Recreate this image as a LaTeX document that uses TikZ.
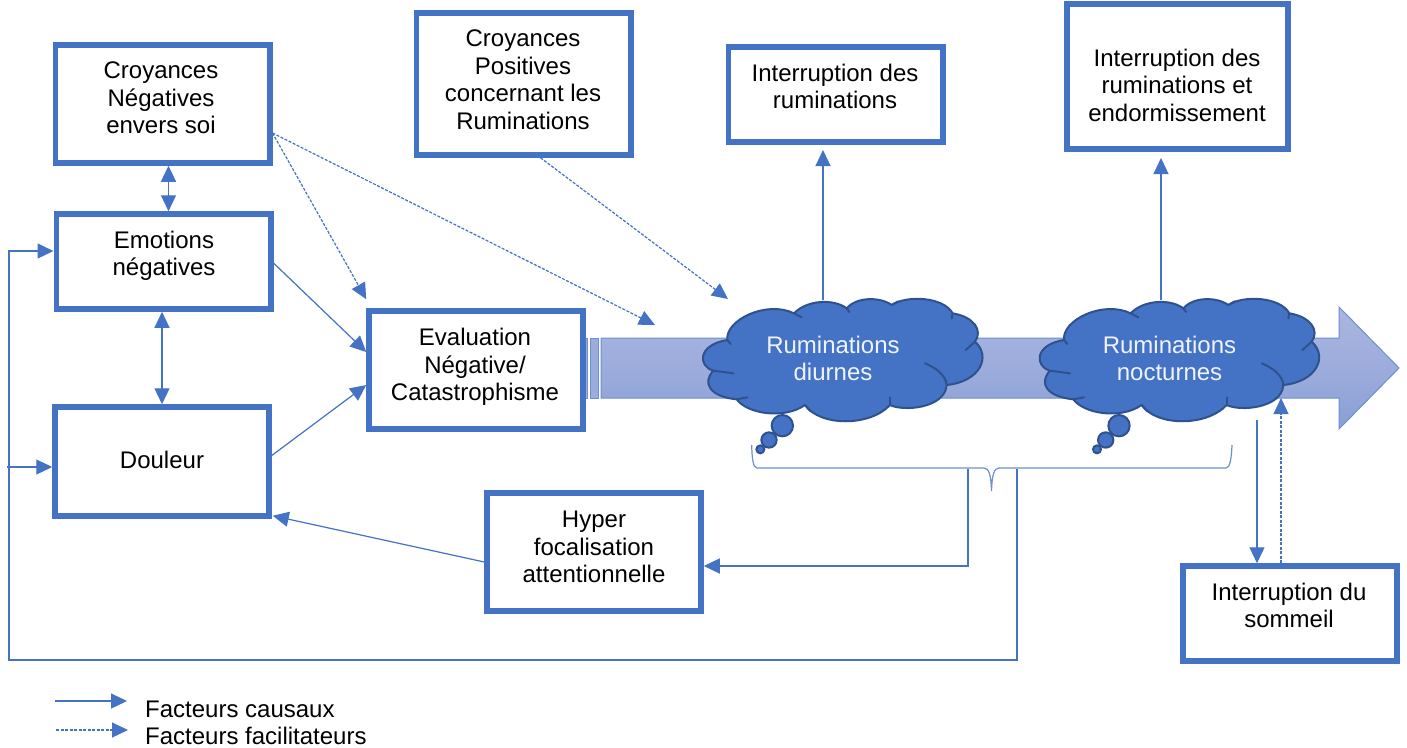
\documentclass[tikz,border=0pt]{standalone}
\usepackage{fontspec}
\setmainfont{Liberation Sans}
\usetikzlibrary{arrows.meta}
\definecolor{acc}{HTML}{4472C4}
\definecolor{cloudline}{HTML}{2F528F}
\definecolor{arrowline}{HTML}{6C8FD3}
\tikzset{
  boxnode/.style={draw=acc,line width=5.5pt,fill=white,inner sep=0pt},
  lab/.style={font=\fontsize{24}{27.5}\selectfont,align=center,inner sep=0pt,text=black},
  cloudlab/.style={lab,text=white!92!acc},
  conn/.style={draw=acc,line width=1.2pt,-{Triangle[length=16pt,width=15pt]}},
  conntwo/.style={draw=acc,line width=1.2pt,{Triangle[length=16pt,width=15pt]}-{Triangle[length=16pt,width=15pt]}},
  dashconn/.style={conn,dash pattern=on 3pt off 1.5pt},
  plain/.style={draw=acc,line width=1pt},
  cloudbody/.style={fill=acc,draw=cloudline,line width=2pt,line join=round},
  cloudinner/.style={draw=cloudline,line width=2pt,line cap=round},
  bigarrow/.style={draw=arrowline,line width=1pt,top color=bigtop,bottom color=bigbot,middle color=bigmid},
}
\definecolor{bigtop}{HTML}{ABB6E0}
\definecolor{bigmid}{HTML}{9CACDC}
\definecolor{bigbot}{HTML}{8A9FD5}
\newcommand{\thoughtcloud}{%
  \path[cloudbody] (472,180) .. controls (465,120) and (590,60) .. (672,100)
   .. controls (710,60) and (790,55) .. (830,85)
   .. controls (860,50) and (930,50) .. (965,75)
   .. controls (1010,45) and (1120,50) .. (1148,100)
   .. controls (1210,110) and (1240,150) .. (1215,185)
   .. controls (1265,230) and (1230,305) .. (1130,315)
   .. controls (1125,385) and (1000,395) .. (960,375)
   .. controls (900,440) and (750,440) .. (705,375)
   .. controls (640,420) and (530,400) .. (500,358)
   .. controls (420,350) and (395,310) .. (430,272)
   .. controls (385,260) and (380,195) .. (472,180) -- cycle;
  \path[cloudinner] (672,100) -- (695,112);
  \path[cloudinner] (830,85) -- (838,96);
  \path[cloudinner] (965,75) -- (985,64);
  \path[cloudinner] (1148,100) -- (1145,115);
  \path[cloudinner] (1215,185) -- (1187,210);
  \path[cloudinner] (1130,315) .. controls (1128,285) and (1095,262) .. (1065,250);
  \path[cloudinner] (960,375) -- (960,352);
  \path[cloudinner] (705,375) -- (722,394);
  \path[cloudinner] (500,358) -- (532,352);
  \path[cloudinner] (430,272) -- (490,280);
  \path[cloudinner] (472,180) -- (482,192);
  \path[cloudbody] (637,437) circle[radius=32];
  \path[cloudbody] (597,480) circle[radius=23];
  \path[cloudbody] (571,508) circle[radius=12];
}
\begin{document}
\begin{tikzpicture}[x=1pt,y=-1pt]
\useasboundingbox (0,0) rectangle (1407,747);
\fill[white] (0,0) rectangle (1407,747);

% long arrow
\path[bigarrow] (601,338) -- (1339,338) -- (1339,307) -- (1399,368) -- (1339,429) -- (1339,398) -- (601,398) -- cycle;
\path[draw=arrowline,line width=1pt,fill=bigmid] (590.5,338) rectangle (598,398);
\path[draw=arrowline,line width=1pt,fill=bigmid] (584,338) rectangle (587,398);

% boxes
\node[boxnode,minimum width=214.5pt,minimum height=118pt] (croyneg) at (162.5,104) {};
\node[boxnode,minimum width=214.5pt,minimum height=95pt] (emo) at (163.5,261.5) {};
\node[boxnode,minimum width=214pt,minimum height=109pt] (dou) at (162,461.5) {};
\node[boxnode,minimum width=214pt,minimum height=118pt] (eval) at (476,370) {};
\node[boxnode,minimum width=214.5pt,minimum height=142pt] (croypos) at (523.5,84) {};
\node[boxnode,minimum width=214.5pt,minimum height=95pt] (intr) at (835.5,94.5) {};
\node[boxnode,minimum width=221pt,minimum height=145pt] (intrend) at (1177.5,76.5) {};
\node[boxnode,minimum width=214pt,minimum height=118pt] (hyper) at (594,552) {};
\node[boxnode,minimum width=214pt,minimum height=95pt] (somm) at (1290,613.5) {};

% box texts
\node[lab] (tcroyneg) at (161,98) {Croyances\\Négatives\\envers soi};
\node[lab] (temo) at (164,256) {Emotions\\négatives};
\node[lab] (tdou) at (162,460) {Douleur};
\node[lab] (teval) at (475,367) {Evaluation\\Négative/\\Catastrophisme};
\node[lab] (tcroypos) at (523,79.5) {Croyances\\Positives\\concernant les\\Ruminations};
\node[lab] (tintr) at (835,86.5) {Interruption des\\ruminations};
\node[lab] (tintrend) at (1177,85) {Interruption des\\ruminations et\\endormissement};
\node[lab] (thyper) at (594,547) {Hyper\\focalisation\\attentionnelle};
\node[lab] (tsomm) at (1289,605.5) {Interruption du\\sommeil};

% free ends
\coordinate (cloudatop) at (823,300);
\coordinate (cloudbtop) at (1161,300);
\coordinate (cloudaend) at (728,299);
\coordinate (shaftend) at (655,325);
\coordinate (cloudbout) at (1257,420);
\coordinate (cloudbin) at (1281,398);
\coordinate (bracea) at (968,469);
\coordinate (braceb) at (1017,469);
\coordinate (cornerb) at (1017,660);
\coordinate (cornerc) at (9,660);
\coordinate (freestart) at (7,467);
\coordinate (lega) at (55,701);
\coordinate (legb) at (127,701);
\coordinate (legc) at (56,730);
\coordinate (legd) at (128,730);

% connectors
\draw[conntwo] ([xshift=6pt]croyneg.south) -- ([xshift=5pt]emo.north);
\draw[conntwo] ([xshift=-1.5pt]emo.south) -- ([xshift=0pt]dou.north);
\draw[conn] ([yshift=-1.5pt]emo.east) -- ([yshift=18pt]eval.west);
\draw[conn] ([yshift=6pt]dou.east) -- ([yshift=-15pt]eval.west);
\draw[dashconn] ([yshift=-29pt]croyneg.east) -- ([yshift=9pt]eval.north west);
\draw[dashconn] ([yshift=-29pt]croyneg.east) -- (shaftend);
\draw[dashconn] ([xshift=-93pt]croypos.south east) -- (cloudaend);
\draw[conn] (cloudatop) -- (823,150);
\draw[conn] (cloudbtop) -- (1161,158);
\draw[conn] (cloudbout) -- (cloudbout |- somm.north);
\draw[dashconn] (cloudbin |- somm.north) -- (cloudbin);
\draw[conn] ([yshift=-10pt]hyper.west) -- ([xshift=1pt,yshift=3pt]dou.south east);
\draw[conn] (bracea) -- (bracea |- 0,566) -- (hyper.east |- 0,566);
\draw[conn] (braceb) -- (cornerb) -- (cornerc) |- (9,251) -- (emo.west |- 0,251);
\draw[conn] (freestart) -- (dou.west |- 0,467);

% clouds
\begin{scope}[shift={(570,280)},x=0.33333pt,y=-0.33333pt]
\thoughtcloud
\end{scope}
\begin{scope}[shift={(906.67,280)},x=0.33333pt,y=-0.33333pt]
\thoughtcloud
\end{scope}
\node[cloudlab] (rumd) at (833,358.5) {Ruminations\\diurnes};
\node[cloudlab] (rumn) at (1169.5,358.5) {Ruminations\\nocturnes};

% bracket
\path[draw=arrowline,line width=1.2pt] (751.7,445) .. controls (752,458) and (753,468) .. (757,468)
  -- (984,468) .. controls (989,468) and (991,475) .. (991.5,491)
  .. controls (992,475) and (994,468) .. (999,468) -- (1226,468)
  .. controls (1230,468) and (1231.5,458) .. (1232,445);

% legend
\draw[conn] (lega) -- (legb);
\draw[dashconn] (legc) -- (legd);
\node[lab,anchor=west] (leg1) at (145,709) {Facteurs causaux};
\node[lab,anchor=west] (leg2) at (145,736) {Facteurs facilitateurs};
\end{tikzpicture}
\end{document}
